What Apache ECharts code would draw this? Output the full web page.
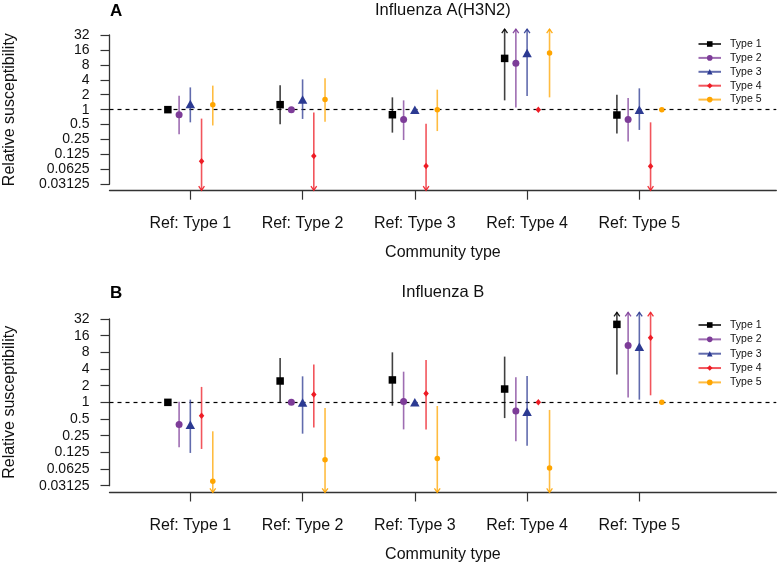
<!DOCTYPE html>
<html>
<head>
<meta charset="utf-8">
<script src="https://cdn.jsdelivr.net/npm/echarts@6/dist/echarts.min.js"></script>
<style>html,body{margin:0;padding:0;background:#fff}#c{width:777px;height:565px}</style>
</head>
<body>
<div id="c"></div>
<script>
// ---------------- data ----------------
const refCategories = ['Ref: Type 1', 'Ref: Type 2', 'Ref: Type 3', 'Ref: Type 4', 'Ref: Type 5'];
const typeNames = ['Type 1', 'Type 2', 'Type 3', 'Type 4', 'Type 5'];
const yTickLabels = ['0.03125', '0.0625', '0.125', '0.25', '0.5', '1', '2', '4', '8', '16', '32'];
const panelTitles = ['Influenza A(H3N2)', 'Influenza B'];
const panelLetters = ['A', 'B'];
// Relative susceptibility, one value per reference group. null = reference (no CI).
// Lower bound 0 = below the axis range, upper bound Infinity = above the axis range (arrow).
const h3n2Type1Est  = [1,    1.26, 0.79,  10.8,     0.78];
const h3n2Type1Low  = [null, 0.51, 0.344, 1.54,     0.33];
const h3n2Type1High = [null, 3.09, 1.77,  Infinity, 2.0];
const h3n2Type2Est  = [0.79,  1,    0.63,  8.6,      0.63];
const h3n2Type2Low  = [0.318, null, 0.244, 1.1,      0.227];
const h3n2Type2High = [1.91,  null, 1.54,  Infinity, 1.71];
const h3n2Type3Est  = [1.30,  1.61, 1,    13.8,     1.0];
const h3n2Type3Low  = [0.555, 0.65, null, 1.88,     0.39];
const h3n2Type3High = [2.81,  4.08, null, Infinity, 2.69];
const h3n2Type4Est  = [0.091, 0.116, 0.073, 1,    0.072];
const h3n2Type4Low  = [0,     0,     0,     null, 0];
const h3n2Type4High = [0.66,  0.88,  0.52,  null, 0.555];
const h3n2Type5Est  = [1.26, 1.61, 1.0,  13.8,     1];
const h3n2Type5Low  = [0.48, 0.57, 0.37, 1.77,     null];
const h3n2Type5High = [3.05, 4.28, 2.53, Infinity, null];

const fluBType1Est  = [1,    2.43, 2.54, 1.74, 25.6];
const fluBType1Low  = [null, 0.98, 0.87, 0.52, 3.2];
const fluBType1High = [null, 6.3,  8.0,  6.7,  Infinity];
const fluBType2Est  = [0.40,  1,    1.04,  0.70,  10.6];
const fluBType2Low  = [0.154, null, 0.325, 0.198, 1.22];
const fluBType2High = [1.03,  null, 3.58,  2.83,  Infinity];
const fluBType3Est  = [0.395, 0.99,  1,    0.68,  10.1];
const fluBType3Low  = [0.122, 0.272, null, 0.165, 1.12];
const fluBType3High = [1.12,  2.95,  null, 3.0,   Infinity];
const fluBType4Est  = [0.57,  1.38, 1.45,  1,    14.7];
const fluBType4Low  = [0.144, 0.35, 0.325, null, 1.34];
const fluBType4High = [1.90,  4.85, 5.8,   null, Infinity];
const fluBType5Est  = [0.0375, 0.092, 0.097, 0.065, 1];
const fluBType5Low  = [0,      0,     0,     0,     null];
const fluBType5High = [0.30,   0.79,  0.86,  0.73,  null];

// ---------------- styles / layout ----------------
const FONT = '"Liberation Sans", Arial, Helvetica, sans-serif';
const typeColors = ['#000000', '#7D3C98', '#2C3A92', '#EE1C25', '#FFA500'];
const typeSymbols = ['rect', 'circle', 'triangle', 'diamond', 'circle'];
const typeSymbolSizes = [7.5, 7, [9.5, 8.5], [5.5, 6.5], 5.5];
const dodge = 0.1;
const yRange = 5;                 // log2 axis from -5 to 5
const yPlotLimit = yRange + 0.04 * 2 * yRange; // R-style 4% extension
const xMin = 0.5 - 0.04 * 5.5, xMax = 6 + 0.04 * 5.5;
const gridBoxes = [
  { left: 109.5, top: 35, width: 666.8, height: 149.3, xOffset: 6.4, titleTop: 2, legendTop: 38.5, legendGap: 2.9 },
  { left: 109.5, top: 319, width: 666.8, height: 166.7, xOffset: 6.8, titleTop: 284, legendTop: 319.5, legendGap: 3.35 }
];

const panels = [
  { est: [h3n2Type1Est, h3n2Type2Est, h3n2Type3Est, h3n2Type4Est, h3n2Type5Est],
    low: [h3n2Type1Low, h3n2Type2Low, h3n2Type3Low, h3n2Type4Low, h3n2Type5Low],
    high: [h3n2Type1High, h3n2Type2High, h3n2Type3High, h3n2Type4High, h3n2Type5High] },
  { est: [fluBType1Est, fluBType2Est, fluBType3Est, fluBType4Est, fluBType5Est],
    low: [fluBType1Low, fluBType2Low, fluBType3Low, fluBType4Low, fluBType5Low],
    high: [fluBType1High, fluBType2High, fluBType3High, fluBType4High, fluBType5High] }
];

function toLog(v) {
  if (v === 0) return -yPlotLimit;
  if (v === Infinity) return yPlotLimit;
  return Math.log2(v);
}

function ciRender(color) {
  return function (params, api) {
    const x = api.value(0), lo = api.value(1), hi = api.value(2);
    const down = api.value(3), up = api.value(4);
    const a = api.coord([x, lo]), b = api.coord([x, hi]);
    const L = 5, ang = 35 * Math.PI / 180, dx = L * Math.sin(ang), dy = L * Math.cos(ang);
    const children = [{
      type: 'line', shape: { x1: a[0], y1: a[1], x2: b[0], y2: b[1] },
      style: { stroke: color, lineWidth: 1.6, opacity: 0.75 }
    }];
    if (up) children.push({ type: 'polyline',
      shape: { points: [[b[0] - dx, b[1] + dy], [b[0], b[1]], [b[0] + dx, b[1] + dy]] },
      style: { stroke: color, fill: null, lineWidth: 1.3, opacity: 0.9 } });
    if (down) children.push({ type: 'polyline',
      shape: { points: [[a[0] - dx, a[1] - dy], [a[0], a[1]], [a[0] + dx, a[1] - dy]] },
      style: { stroke: color, fill: null, lineWidth: 1.3, opacity: 0.9 } });
    return { type: 'group', children };
  };
}

const grid = [], xAxis = [], yAxis = [], series = [], title = [], legend = [];
const catValues = refCategories.map((c, i) => i + 1);

gridBoxes.forEach((g, p) => {
  grid.push({ left: g.left, top: g.top, width: g.width, height: g.height,
    containLabel: false, outerBoundsMode: 'none' });
  xAxis.push({
    gridIndex: p, type: 'value', min: xMin, max: xMax, offset: g.xOffset,
    axisLine: { onZero: false, lineStyle: { color: '#333', width: 1.3 } },
    axisTick: { customValues: catValues, length: 9, lineStyle: { color: '#333', width: 1.2 } },
    axisLabel: { customValues: catValues, formatter: v => refCategories[Math.round(v) - 1],
      margin: 25, fontSize: 16, color: '#111', fontFamily: FONT },
    splitLine: { show: false },
    name: 'Community type', nameLocation: 'middle', nameGap: 54,
    nameTextStyle: { fontSize: 16, color: '#111', fontFamily: FONT }
  });
  yAxis.push({
    gridIndex: p, type: 'value', min: -yRange, max: yRange, interval: 1,
    axisLine: { show: true, onZero: false, lineStyle: { color: '#333', width: 1.3 } },
    axisTick: { show: true, length: 9, lineStyle: { color: '#333', width: 1.2 } },
    axisLabel: { formatter: v => yTickLabels[Math.round(v) + yRange], margin: 20,
      fontSize: 14, color: '#111', fontFamily: FONT },
    splitLine: { show: false },
    name: 'Relative susceptibility', nameLocation: 'middle', nameGap: 92,
    nameTextStyle: { fontSize: 16, color: '#111', fontFamily: FONT }
  });
  title.push({ text: panelTitles[p], left: g.left + g.width / 2, top: g.titleTop, textAlign: 'center',
    textStyle: { fontSize: 16.5, fontWeight: 'normal', color: '#111', fontFamily: FONT }, padding: 0 });
  title.push({ text: panelLetters[p], left: 110, top: g.titleTop + 1, padding: 0,
    textStyle: { fontSize: 17, fontWeight: 'bold', color: '#000', fontFamily: FONT } });
  legend.push({
    data: typeNames, orient: 'vertical', left: 697.5, top: g.legendTop, padding: 0,
    itemWidth: 22.5, itemHeight: 7, itemGap: g.legendGap, selectedMode: false,
    textStyle: { fontSize: 10.5, color: '#111', fontFamily: FONT, padding: [0, 0, 0, 4] }
  });

  const pd = panels[p];
  typeNames.forEach((name, t) => {
    // legend proxy
    series.push({ type: 'line', name: name, xAxisIndex: p, yAxisIndex: p, data: [],
      symbol: typeSymbols[t], color: typeColors[t],
      lineStyle: { color: typeColors[t], width: 1.6, opacity: 0.75 },
      itemStyle: { color: typeColors[t] } });
    const ciData = [], ptData = [];
    refCategories.forEach((c, i) => {
      const x = i + 1 + (t - 2) * dodge;
      ptData.push([x, Math.log2(pd.est[t][i])]);
      const lo = pd.low[t][i], hi = pd.high[t][i];
      if (lo !== null && hi !== null) {
        ciData.push([x, toLog(lo), toLog(hi), lo === 0 ? 1 : 0, hi === Infinity ? 1 : 0]);
      }
    });
    series.push({ type: 'custom', xAxisIndex: p, yAxisIndex: p, data: ciData, z: 2,
      renderItem: ciRender(typeColors[t]), silent: true, clip: false });
    const sc = { type: 'scatter', xAxisIndex: p, yAxisIndex: p, data: ptData, z: 4,
      symbol: typeSymbols[t], symbolSize: typeSymbolSizes[t],
      itemStyle: { color: typeColors[t], opacity: 1 }, silent: true };
    if (t === 0) {
      sc.markLine = { silent: true, symbol: ['none', 'none'], label: { show: false }, z: 1,
        lineStyle: { type: [4, 4], color: '#000', width: 1.2 }, data: [{ yAxis: 0 }] };
    }
    series.push(sc);
  });
});

const chart = echarts.init(document.getElementById('c'), null, { renderer: 'canvas' });
chart.setOption({ animation: false, backgroundColor: '#fff', grid, xAxis, yAxis, series, title, legend,
  textStyle: { fontFamily: FONT } });
</script>
</body>
</html>
